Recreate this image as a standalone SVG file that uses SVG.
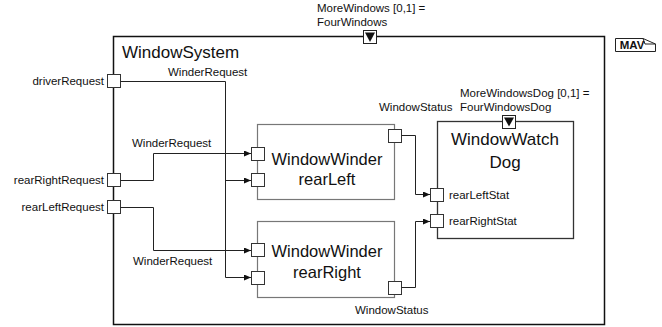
<svg xmlns="http://www.w3.org/2000/svg" width="662" height="327" viewBox="0 0 662 327">
<style>
text{font-family:"Liberation Sans",Arial,sans-serif;fill:#111}
.s{font-size:11.5px}
.big{font-size:17px}
.mid{font-size:16.5px}
.port{fill:#fff;stroke:#333;stroke-width:1}
.blk{fill:none;stroke:#777;stroke-width:1.2}
.con{fill:none;stroke:#222;stroke-width:1}
.param{fill:#fff;stroke:#222;stroke-width:1}
</style>
<defs>
<marker id="ah" markerWidth="7" markerHeight="6" refX="7" refY="3" orient="auto" markerUnits="userSpaceOnUse">
<path d="M0,0 L7,3 L0,6 Z" fill="#111"/>
</marker>
</defs>

<g id="WindowSystem">
<rect x="113.5" y="36.5" width="491" height="288" fill="#fff" stroke="#111" stroke-width="1.5"/>
<text class="big" x="122" y="58">WindowSystem</text>
<rect class="param" x="363.5" y="30.5" width="13" height="13"/>
<path d="M365,32.5 L375,32.5 L370,42 Z" fill="#111"/>
<text class="s" x="317" y="12">MoreWindows [0,1] =</text>
<text class="s" x="317" y="26">FourWindows</text>
</g>

<g id="MAV">
<path d="M615.5,38.5 H643 L655.5,44 V51.5 H615.5 Z" fill="#fff" stroke="#222" stroke-width="1"/>
<path d="M643,38.5 L645,44 L655.5,44" fill="none" stroke="#222" stroke-width="1"/>
<text x="632" y="49" text-anchor="middle" font-size="11.5" font-weight="bold">MAV</text>
</g>

<g id="driverRequest">
<rect class="port" x="107.5" y="74.5" width="13" height="13"/>
<text class="s" x="104" y="85" text-anchor="end">driverRequest</text>
</g>
<g id="rearRightRequest">
<rect class="port" x="107.5" y="173.5" width="13" height="13"/>
<text class="s" x="104" y="184" text-anchor="end">rearRightRequest</text>
</g>
<g id="rearLeftRequest">
<rect class="port" x="107.5" y="200.5" width="13" height="13"/>
<text class="s" x="104" y="211" text-anchor="end">rearLeftRequest</text>
</g>

<g id="WindowWinderRearLeft">
<rect class="blk" x="257.5" y="124.5" width="137" height="75"/>
<rect class="port" x="251.5" y="147.5" width="13" height="13"/>
<rect class="port" x="251.5" y="173.5" width="13" height="13"/>
<rect class="port" x="388.5" y="129.5" width="13" height="13"/>
<text class="mid" x="327" y="165" text-anchor="middle">WindowWinder</text>
<text class="mid" x="327" y="185" text-anchor="middle">rearLeft</text>
</g>

<g id="WindowWinderRearRight">
<rect class="blk" x="257.5" y="221.5" width="137" height="76"/>
<rect class="port" x="251.5" y="243.5" width="13" height="13"/>
<rect class="port" x="251.5" y="271.5" width="13" height="13"/>
<rect class="port" x="388.5" y="281.5" width="13" height="13"/>
<text class="mid" x="327" y="257" text-anchor="middle">WindowWinder</text>
<text class="mid" x="327" y="278" text-anchor="middle">rearRight</text>
</g>

<g id="WindowWatchDog">
<rect x="437.5" y="121.5" width="136" height="117" fill="#fff" stroke="#333" stroke-width="1.3"/>
<rect class="param" x="502.5" y="115.5" width="13" height="13"/>
<path d="M504,117.5 L514,117.5 L509,126.5 Z" fill="#111"/>
<text class="big" x="505" y="145" text-anchor="middle">WindowWatch</text>
<text class="big" x="505" y="168" text-anchor="middle">Dog</text>
<rect class="port" x="430.5" y="188.5" width="13" height="13"/>
<rect class="port" x="430.5" y="214.5" width="13" height="13"/>
<text class="s" x="449" y="199">rearLeftStat</text>
<text class="s" x="449" y="225">rearRightStat</text>
<text class="s" x="460" y="97">MoreWindowsDog [0,1] =</text>
<text class="s" x="460" y="111">FourWindowsDog</text>
</g>

<g id="connectors">
<path class="con" d="M120.5,81.5 H225.5 V277.5 H251" marker-end="url(#ah)"/>
<path class="con" d="M225.5,180.5 H251" marker-end="url(#ah)"/>
<path class="con" d="M120.5,180.5 H153.5 V153.5 H251" marker-end="url(#ah)"/>
<path class="con" d="M120.5,207.5 H153.5 V250.5 H251" marker-end="url(#ah)"/>
<path class="con" d="M401.5,135.5 H415.5 V194.5 H430" marker-end="url(#ah)"/>
<path class="con" d="M401.5,287.5 H415.5 V221.5 H430" marker-end="url(#ah)"/>
<text class="s" x="168" y="76">WinderRequest</text>
<text class="s" x="132" y="147">WinderRequest</text>
<text class="s" x="133" y="265">WinderRequest</text>
<text class="s" x="379" y="111">WindowStatus</text>
<text class="s" x="355" y="314">WindowStatus</text>
</g>
</svg>
